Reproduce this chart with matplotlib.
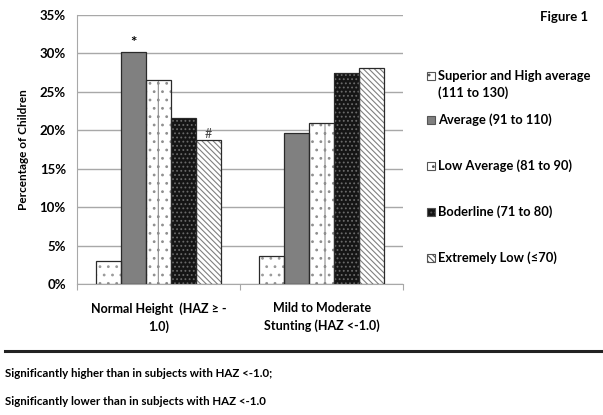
import numpy as np
import matplotlib
matplotlib.use("Agg")
import matplotlib.pyplot as plt
from matplotlib.patches import Rectangle

plt.rcParams['font.family'] = ['Lato', 'DejaVu Sans']
plt.rcParams['font.weight'] = 'bold'
plt.rcParams['hatch.linewidth'] = 0.8

# data (percent of children)
groups = ["Normal Height  (HAZ \u2265 -\n1.0)", "Mild to Moderate\nStunting (HAZ <-1.0)"]
series = ["Superior and High average\n(111 to 130)", "Average (91 to 110)",
          "Low Average (81 to 90)", "Boderline (71 to 80)", "Extremely Low (\u226470)"]
superior = [3.0, 3.7]
average = [30.2, 19.7]
low_avg = [26.6, 21.0]
borderline = [21.6, 27.5]
extreme_low = [18.7, 28.1]
values = [superior, average, low_avg, borderline, extreme_low]

faces = ['white', '#808080', 'white', '#151515', 'white']
hatches = ['..', None, '|..', '....', '\\\\\\\\\\\\']
hatch_cols = ['#9a9a9a', '#808080', '#8f8f8f', '#6a6a6a', '#808080']

W, H = 603, 415
fig = plt.figure(figsize=(W / 100, H / 100), dpi=100)
ax = fig.add_axes([0.1277, 0.3157, 0.541, 0.648])

x = np.arange(len(groups))
w = 0.153
for i, vals in enumerate(values):
    pos = x + (i - 2) * w
    # hatch pass, then a dark outline on top
    ax.bar(pos, vals, w, color=faces[i], hatch=hatches[i], edgecolor=hatch_cols[i],
           linewidth=0, zorder=3)
    ax.bar(pos, vals, w, fill=False, edgecolor='#2a2a2a', linewidth=0.9, zorder=4)

# significance marks
ax.text(x[0] - w, average[0] + 0.3, "*", ha='center', va='bottom', fontsize=11)
ax.text(x[0] + 2 * w, extreme_low[0] + 0.1, "#", ha='center', va='bottom',
        fontsize=9, weight='normal', color='#444444')

ax.set_ylim(0, 35)
ax.set_xlim(-0.5, 1.5)
ax.set_yticks(np.arange(0, 36, 5))
ax.set_yticklabels([f"{v}%" for v in range(0, 36, 5)], fontsize=9.5)
ax.yaxis.grid(True, color='#a8a8a8', linewidth=1.0, zorder=0)
ax.tick_params(axis='y', length=0, pad=8)
ax.set_xticks([-0.5, 0.5, 1.5])
ax.set_xticklabels(["", "", ""])
ax.tick_params(axis='x', length=4, color='#a8a8a8', direction='out')
for i, g in enumerate(groups):
    ax.text(x[i], -2.4, g, ha='center', va='top', fontsize=9, linespacing=1.5)

for s in ['top', 'right']:
    ax.spines[s].set_visible(False)
ax.spines['left'].set_color('#a8a8a8')
ax.spines['bottom'].set_color('#a8a8a8')
ax.set_ylabel("Percentage of Children", fontsize=8.5, fontweight='bold', labelpad=8)

# legend drawn by hand (Excel-style spacing), pixel rows from the top
leg_rows = [76, 120, 166, 212, 258]
for i, lab in enumerate(series):
    yc = 1 - leg_rows[i] / H
    fig.add_artist(Rectangle((427 / W, yc - 4 / H), 8 / W, 8 / H, transform=fig.transFigure,
                             facecolor=faces[i], hatch=hatches[i], edgecolor='#555555',
                             linewidth=0.8))
    for k, ln in enumerate(lab.split('\n')):
        fig.text(438 / W, yc - k * 17 / H, ln, ha='left', va='center', fontsize=9.3)

fig.text(0.935, 0.958, "Figure 1", ha='center', va='center', fontsize=9.5)

fig.add_artist(plt.Line2D([0.008, 1.0], [0.154, 0.154], color='#222222', linewidth=2.2))
fig.text(0.008, 0.101, "Significantly higher than in subjects with HAZ <-1.0;",
         ha='left', va='center', fontsize=8.3)
fig.text(0.008, 0.032, "Significantly lower than in subjects with HAZ <-1.0",
         ha='left', va='center', fontsize=8.3)

fig.savefig("out.png", dpi=100)
